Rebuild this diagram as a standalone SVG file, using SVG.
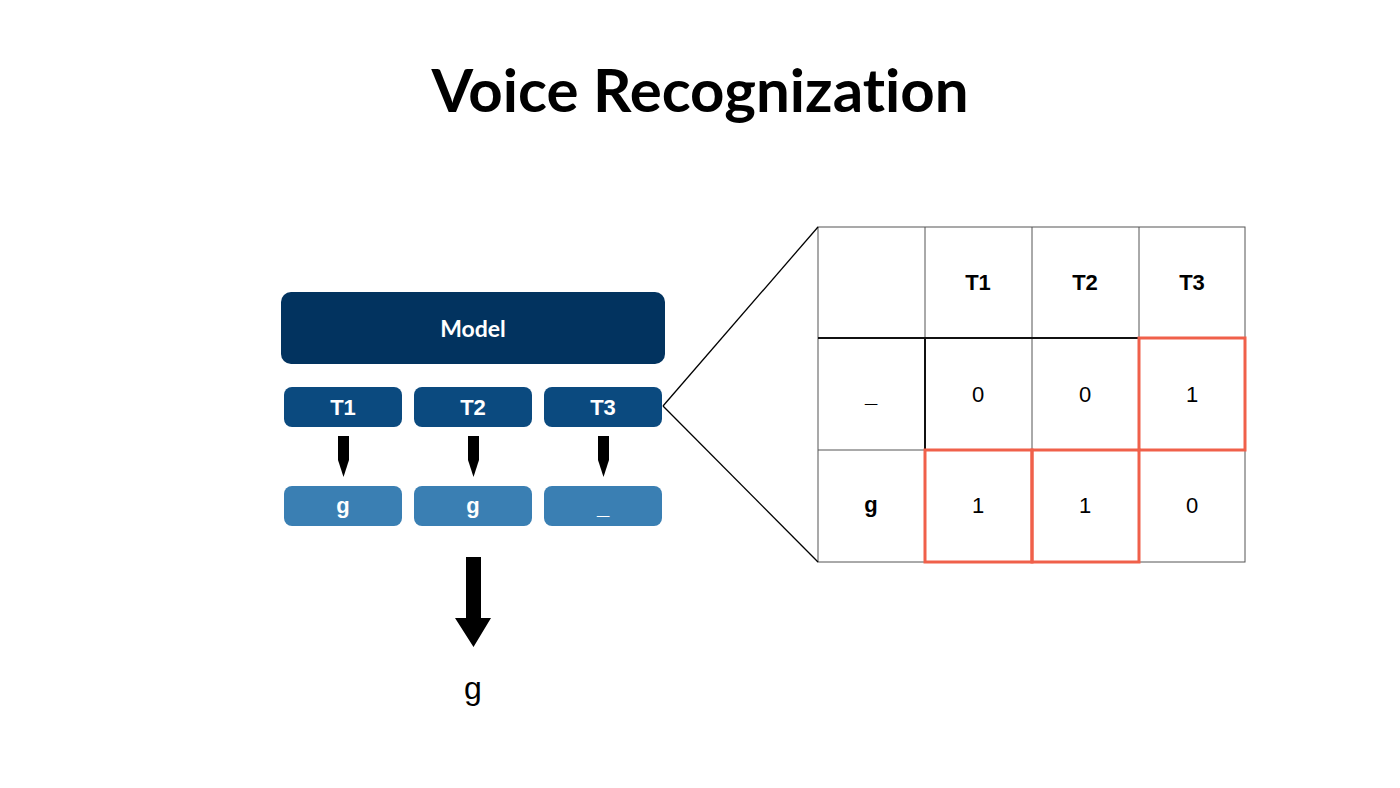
<svg xmlns="http://www.w3.org/2000/svg" width="1400" height="788" viewBox="0 0 1400 788">
<style>
.title{font-family:Lato,"Noto Sans",sans-serif;font-weight:700;font-size:60px;fill:#000;font-variant-ligatures:none}
.model{fill:#02335f}
.tbox{fill:#0b4a7f}
.gbox{fill:#3a7fb3}
.wt{font-family:"Liberation Sans",Arial,sans-serif;font-weight:700;font-size:22px;fill:#fff;text-anchor:middle}
.wm{font-family:Lato,"Noto Sans",sans-serif;font-weight:700;font-size:23px;fill:#fff;text-anchor:middle}
.grid{stroke:#555;stroke-width:1;fill:none}
.thick{stroke:#111;stroke-width:2;fill:none}
.red{stroke:#f0604a;stroke-width:3;fill:none}
.th{font-family:"Liberation Sans",Arial,sans-serif;font-weight:700;font-size:22px;fill:#000;text-anchor:middle}
.td{font-family:"Liberation Sans",Arial,sans-serif;font-size:22px;fill:#000;text-anchor:middle}
.conn{stroke:#000;stroke-width:1.3;fill:none}
</style>
<rect width="1400" height="788" fill="#fff"/>
<text id="title" class="title" x="700" y="112" text-anchor="middle">Voice Recognization</text>

<g id="model"><rect class="model" x="281" y="292" width="384" height="72" rx="10"/><text class="wm" x="473" y="337">Model</text></g>

<g id="t1"><rect class="tbox" x="284" y="387" width="118" height="40" rx="8"/><text class="wt" x="343" y="415">T1</text></g>
<g id="t2"><rect class="tbox" x="414" y="387" width="118" height="40" rx="8"/><text class="wt" x="473" y="415">T2</text></g>
<g id="t3"><rect class="tbox" x="544" y="387" width="118" height="40" rx="8"/><text class="wt" x="603" y="415">T3</text></g>

<g id="g1"><rect class="gbox" x="284" y="486" width="118" height="40" rx="8"/><text class="wt" x="343" y="513">g</text></g>
<g id="g2"><rect class="gbox" x="414" y="486" width="118" height="40" rx="8"/><text class="wt" x="473" y="513">g</text></g>
<g id="g3"><rect class="gbox" x="544" y="486" width="118" height="40" rx="8"/><text class="wt" x="603" y="514">_</text></g>

<g id="output"><text x="473" y="699" font-family="'Liberation Sans',Arial,sans-serif" font-size="32" text-anchor="middle" fill="#000">g</text></g>

<g id="table">
<rect class="grid" x="818" y="227" width="427" height="335"/>
<line class="grid" x1="925" y1="227" x2="925" y2="562"/>
<line class="grid" x1="1032" y1="227" x2="1032" y2="562"/>
<line class="grid" x1="1139" y1="227" x2="1139" y2="562"/>
<line class="grid" x1="818" y1="450" x2="1245" y2="450"/>
<line class="grid" x1="1139" y1="338" x2="1245" y2="338"/>
<line class="thick" x1="818" y1="338" x2="1139" y2="338"/>
<line class="thick" x1="925" y1="338" x2="925" y2="450"/>
<text class="th" x="978" y="290">T1</text>
<text class="th" x="1085" y="290">T2</text>
<text class="th" x="1192" y="290">T3</text>
<text class="th" x="871" y="402">_</text>
<text class="th" x="871" y="512">g</text>
<text class="td" x="978" y="402">0</text>
<text class="td" x="1085" y="402">0</text>
<text class="td" x="1192" y="402">1</text>
<text class="td" x="978" y="513">1</text>
<text class="td" x="1085" y="513">1</text>
<text class="td" x="1192" y="513">0</text>
<rect class="red" x="1139" y="338" width="106" height="112"/>
<rect class="red" x="925" y="450" width="107" height="112"/>
<rect class="red" x="1032" y="450" width="107" height="112"/>
</g>

<g id="connectors">
<path d="M338 436 H349 V460 L343.5 477 L338 460 Z" fill="#000"/>
<path d="M468 436 H479 V460 L473.5 477 L468 460 Z" fill="#000"/>
<path d="M598 436 H609 V460 L603.5 477 L598 460 Z" fill="#000"/>
<path d="M466 557 H481 V618 H491 L473.5 647 L455 618 H466 Z" fill="#000"/>
<line class="conn" x1="663" y1="406" x2="818" y2="227"/>
<line class="conn" x1="663" y1="406" x2="818" y2="562"/>
</g>
</svg>
